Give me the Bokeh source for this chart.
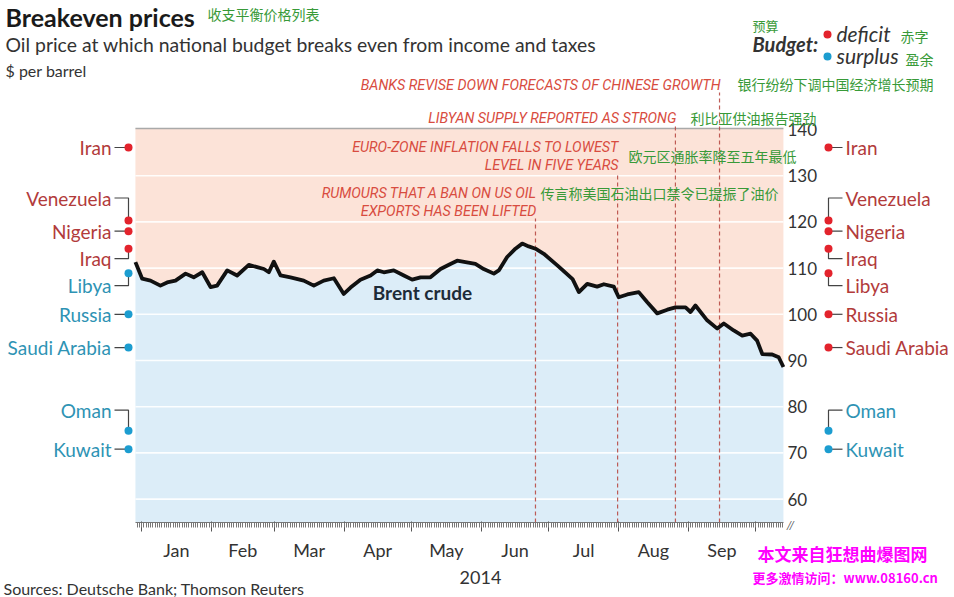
from bokeh.plotting import figure
from bokeh.models import Label, LinearAxis, FixedTicker, Range1d, ColumnDataSource
from bokeh.embed import file_html
from bokeh.resources import INLINE

# ---------------- data ----------------
# Brent crude, days since 1 Jan 2014, $ per barrel
brent_day = [-2.7, 0.3, 4.0, 8.4, 11.4, 15.1, 19.6, 23.2, 27.0, 30.7,
             33.6, 38.1, 42.5, 47.7, 51.4, 54.4, 56.6, 58.8, 61.8, 66.2,
             72.1, 76.6, 81.0, 85.5, 89.9, 92.9, 97.3, 101.8, 104.8, 107.7,
             112.1, 116.6, 120.3, 124.0, 128.4, 132.9, 137.3, 140.3, 144.0, 148.4,
             152.1, 156.6, 158.8, 162.5, 166.2, 169.2, 172.1, 175.1, 178.8, 184.8,
             188.4, 191.6, 194.4, 198.1, 202.5, 205.5, 209.9, 212.1, 215.9, 221.0,
             224.8, 229.2, 233.7, 237.3, 241.8, 244.0, 246.2, 251.4, 255.9, 258.8,
             263.2, 267.0, 270.7, 273.6, 275.9, 280.3, 283.2, 285.3]
brent_price = [111.3, 107.7, 107.3, 106.2, 106.9, 107.3, 108.8, 108.0, 109.1, 105.9,
               106.2, 109.5, 108.4, 110.7, 110.2, 109.8, 109.1, 111.4, 108.4, 108.0,
               107.3, 106.2, 107.3, 107.8, 104.4, 105.8, 107.5, 108.4, 109.5, 109.1,
               109.5, 108.4, 107.5, 108.0, 108.0, 109.8, 110.9, 111.6, 111.3, 110.9,
               109.8, 108.8, 109.5, 112.4, 114.2, 115.3, 114.7, 114.2, 113.1, 110.6,
               109.0, 107.6, 104.8, 106.6, 106.0, 106.5, 106.0, 103.7, 104.3, 104.8,
               102.6, 100.2, 101.0, 101.5, 101.5, 100.5, 101.9, 98.7, 96.9, 98.0,
               96.5, 95.4, 95.8, 94.3, 91.4, 91.3, 90.7, 88.6]

countries = ["Iran", "Venezuela", "Nigeria", "Iraq", "Libya", "Russia",
             "Saudi Arabia", "Oman", "Kuwait"]
breakeven = [136.1, 120.3, 118.0, 114.2, 108.9, 100.0, 92.8, 74.8, 70.8]

event_day = [175.1, 211.6, 237.3, 256.9]
event_text = [["RUMOURS THAT A BAN ON US OIL", "EXPORTS HAS BEEN LIFTED"],
              ["EURO-ZONE INFLATION FALLS TO LOWEST", "LEVEL IN FIVE YEARS"],
              ["LIBYAN SUPPLY REPORTED AS STRONG"],
              ["BANKS REVISE DOWN FORECASTS OF CHINESE GROWTH"]]
event_text_cn = ["传言称美国石油出口禁令已提振了油价", "欧元区通胀率降至五年最低",
                 "利比亚供油报告强劲", "银行纷纷下调中国经济增长预期"]

month_names = ["Jan", "Feb", "Mar", "Apr", "May", "Jun", "Jul", "Aug", "Sep"]
month_start = [0, 31, 59, 90, 120, 151, 181, 212, 243, 273]
y_ticks = [60, 70, 80, 90, 100, 110, 120, 130, 140]

# ---------------- layout / style ----------------
W, H = 954, 597
X0_PX, PX_DAY = 141.0, 2.25      # canvas px of 1 Jan, px per day
Y140_PX, PX_USD = 129.0, 4.62    # canvas px of $140, px per dollar


def dx(px):
    return (px - X0_PX) / PX_DAY


def dy(py):
    return 140 - (py - Y140_PX) / PX_USD


TOP = dy(128)
BOT = dy(522)
FONT = "Lato"
CJK = "Noto Sans CJK SC"
PINK = "#fce3d8"
BLUE = "#dcedf8"
RED_DOT, BLUE_DOT = "#e3232c", "#1c9dd0"
RED_TXT, BLUE_TXT = "#b23b3b", "#2e93b4"
ANN_RED = "#d84c40"
GREEN = "#389a38"
DARK = "#333333"

p = figure(width=W, height=H, output_backend="svg", toolbar_location=None,
           x_range=Range1d(dx(0), dx(W)), y_range=Range1d(dy(H), dy(0)),
           x_axis_type=None, y_axis_type=None, min_border=0,
           min_border_left=0, min_border_top=0, min_border_right=0, min_border_bottom=0)
p.outline_line_color = None
p.background_fill_color = "white"
p.border_fill_color = "white"

n = len(brent_day)
src = ColumnDataSource(dict(x=brent_day, y=brent_price, top=[TOP] * n, bot=[BOT] * n))
p.varea(x="x", y1="y", y2="top", source=src, fill_color=PINK)
p.varea(x="x", y1="bot", y2="y", source=src, fill_color=BLUE)

# grid lines
gy = [t for t in y_ticks if t < 140]
p.segment(x0=[brent_day[0]] * len(gy), x1=[brent_day[-1]] * len(gy), y0=gy, y1=gy,
          line_color="white", line_width=1.6, line_alpha=0.9)
p.segment(x0=[brent_day[0]], x1=[brent_day[-1]], y0=[TOP], y1=[TOP],
          line_color="#a9a9a9", line_width=1.5)

# event dashed lines
event_top_px = [218, 172, 124, 92]
p.segment(x0=event_day, x1=event_day, y0=[BOT] * 4, y1=[dy(v) for v in event_top_px],
          line_color="#b84a45", line_width=1.2, line_dash="4 3", line_alpha=0.9)

# Brent line
p.line("x", "y", source=src, line_color="#111111", line_width=3.8, line_join="round")

# axes (drawn at fixed data locations inside the canvas)
yax = LinearAxis(fixed_location=brent_day[-1], ticker=FixedTicker(ticks=y_ticks),
                 bounds=(BOT, TOP),
                 axis_line_color=None, major_tick_line_color=None, minor_tick_line_color=None,
                 major_tick_out=0, major_tick_in=0, major_label_standoff=4,
                 major_label_text_font=FONT, major_label_text_font_size="17px",
                 major_label_text_color=DARK)
p.add_layout(yax, "right")

days = list(range(-2, 286))
xa = LinearAxis(fixed_location=BOT, ticker=FixedTicker(ticks=month_start, minor_ticks=days),
                bounds=(brent_day[0], brent_day[-1]),
                axis_line_color="#777777", axis_line_width=1,
                major_tick_line_color="#555555", major_tick_out=9, major_tick_in=1,
                minor_tick_line_color="#777777", minor_tick_out=5, minor_tick_in=0,
                major_label_text_font_size="1px", major_label_standoff=0,
                major_label_overrides={d: "" for d in month_start})
p.add_layout(xa, "below")
month_mid = [(month_start[i] + month_start[i + 1]) / 2 for i in range(len(month_names))]
xb = LinearAxis(fixed_location=BOT, ticker=FixedTicker(ticks=month_mid),
                axis_line_color=None, major_tick_line_color=None, minor_tick_line_color=None,
                major_tick_out=0, major_tick_in=0, minor_tick_out=0,
                major_label_standoff=16, major_label_text_font=FONT,
                major_label_text_font_size="18px", major_label_text_color=DARK,
                major_label_overrides={m: t for m, t in zip(month_mid, month_names)})
p.add_layout(xb, "below")


def add_label(text, px, py, size, color, align="left", font=FONT, style="normal"):
    p.add_layout(Label(x=dx(px), y=dy(py), text=text, text_align=align,
                       text_baseline="middle", text_font=font,
                       text_font_size=f"{size}px", text_color=color,
                       text_font_style=style))


# country breakevens (left: start of period, right: end of period)
label_shift_px = [0, -22.5, 0, 10, 12.5, 0, 0, -20.5, 0]
LEFT_DOT, RIGHT_DOT = 128, 828
xs, ys = [], []
lcol, rcol = [], []
for name, v, sh in zip(countries, breakeven, label_shift_px):
    ly = v - sh / PX_USD
    left_def = v > brent_price[0]
    right_def = v > brent_price[-1]
    lcol.append(RED_DOT if left_def else BLUE_DOT)
    rcol.append(RED_DOT if right_def else BLUE_DOT)
    xs.append([dx(114), dx(LEFT_DOT), dx(LEFT_DOT)])
    ys.append([ly, ly, v])
    xs.append([dx(842), dx(RIGHT_DOT), dx(RIGHT_DOT)])
    ys.append([ly, ly, v])
    p.add_layout(Label(x=dx(111), y=ly, text=name, text_align="right", text_baseline="middle",
                       text_font=FONT, text_font_size="19px",
                       text_color=RED_TXT if left_def else BLUE_TXT))
    p.add_layout(Label(x=dx(845), y=ly, text=name, text_align="left", text_baseline="middle",
                       text_font=FONT, text_font_size="19px",
                       text_color=RED_TXT if right_def else BLUE_TXT))
p.multi_line(xs=xs, ys=ys, line_color="#444444", line_width=1.2)
p.scatter(x=[dx(LEFT_DOT)] * len(breakeven), y=breakeven, size=8, fill_color=lcol, line_color=None)
p.scatter(x=[dx(RIGHT_DOT)] * len(breakeven), y=breakeven, size=8, fill_color=rcol, line_color=None)

# event annotations
ev_line_py = [[192, 210], [146, 164], [117], [84]]
ev_cn = [(540, 192), (628, 155), (690, 117), (737, 83)]
for d, lines, pys, cn, (cx, cy) in zip(event_day, event_text, ev_line_py, event_text_cn, ev_cn):
    for t, py in zip(lines, pys):
        p.add_layout(Label(x=d + 1 / PX_DAY, y=dy(py), text=t, text_align="right",
                           text_baseline="middle", text_font="Roboto",
                           text_font_size="14.3px", text_font_style="italic",
                           text_color=ANN_RED))
    add_label(cn, cx, cy, 14, GREEN, font=CJK)

# Brent label
add_label("Brent crude", 422, 292, 19, "#1d2b38", align="center", style="bold")

# titles
add_label("Breakeven prices", 5, 16, 25, "#1a1a1a", style="bold")
add_label("收支平衡价格列表", 207, 13, 14, GREEN, font=CJK)
add_label("Oil price at which national budget breaks even from income and taxes", 5, 44, 19.4, DARK)
add_label("$ per barrel", 5, 70, 16, DARK)

# legend
add_label("预算", 752, 25, 13, GREEN, font=CJK)
add_label("Budget:", 752, 43, 20, DARK, style="bold italic")
p.scatter(x=[dx(827), dx(827)], y=[dy(34), dy(56)], size=8,
          fill_color=[RED_DOT, BLUE_DOT], line_color=None)
add_label("deficit", 836, 33, 21, DARK, style="italic")
add_label("surplus", 836, 55, 21, DARK, style="italic")
add_label("赤字", 900, 35, 14, GREEN, font=CJK)
add_label("盈余", 905, 58, 14, GREEN, font=CJK)

# bottom texts
add_label("2014", 480, 577, 18, DARK, align="center")
add_label("Sources: Deutsche Bank; Thomson Reuters", 3, 588, 16, DARK)
add_label("//", 786, 524, 12, "#555555", style="italic")
add_label("本文来自狂想曲爆图网", 757, 553, 17, "#ff00ff", font=CJK, style="bold")
add_label("更多激情访问：www.08160.cn", 752, 577, 13, "#ff00ff", font=CJK, style="bold")

open("out.html", "w").write(file_html(p, INLINE))
